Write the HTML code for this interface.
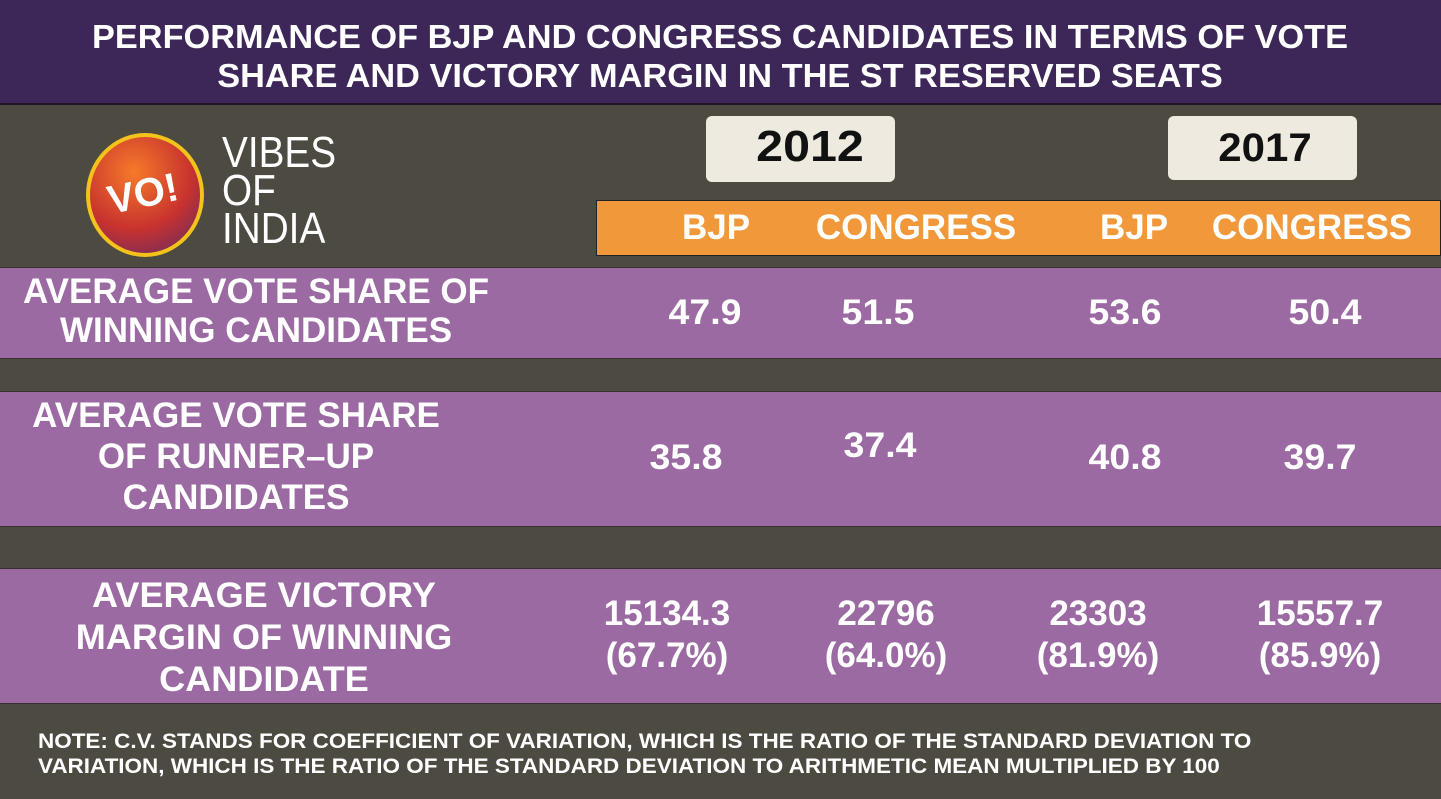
<!DOCTYPE html>
<html><head><style>
body{margin:0;width:1441px;height:799px;overflow:hidden;background:#4d4b41;font-family:"Liberation Sans",sans-serif;font-weight:bold;color:#fff;position:relative}
div{position:absolute}
.t{white-space:nowrap;text-align:center;transform:translateX(-50%) scaleX(1.0);}
.row{left:0;width:1441px;background:#9c6aa2;border-top:1px solid #3a3030;border-bottom:1px solid #3a3030}
.v{font-size:35px;transform:translateX(-50%) scaleX(1.07)}
</style></head><body>
<div style="left:0;top:0;width:1441px;height:103px;background:#3d2758;border-bottom:2px solid #1e1426"></div>
<div class="t" style="left:720px;top:17px;font-size:33px;line-height:39px;transform:translateX(-50%) scaleX(1.04)">PERFORMANCE OF BJP AND CONGRESS CANDIDATES IN TERMS OF VOTE<br>SHARE AND VICTORY MARGIN IN THE ST RESERVED SEATS</div>
<!-- logo -->
<div style="left:86px;top:133px;width:118px;height:124px;border-radius:50%;background:radial-gradient(circle at 40% 30%,#f57a2a,#c8322e 55%,#5a2a6a);border:4px solid #f3c21b;box-sizing:border-box"></div>
<div class="t" style="left:143px;top:172px;font-size:40px;transform:translateX(-50%) rotate(-12deg)">VO!</div>
<div style="left:222px;top:134px;font-size:44px;line-height:38px;font-weight:normal;transform:scaleX(0.88);transform-origin:left">VIBES<br>OF<br>INDIA</div>
<!-- year boxes -->
<div style="left:706px;top:116px;width:189px;height:66px;background:#eeeadf;border-radius:6px"></div>
<div class="t" style="left:810px;top:122px;font-size:44px;color:#111;transform:translateX(-50%) scaleX(1.1)">2012</div>
<div style="left:1168px;top:116px;width:189px;height:64px;background:#eeeadf;border-radius:6px"></div>
<div class="t" style="left:1265px;top:126px;font-size:40px;color:#111;transform:translateX(-50%) scaleX(1.05)">2017</div>
<!-- orange header -->
<div style="left:596px;top:200px;width:845px;height:56px;background:#f0983a;border:1px solid #222;box-sizing:border-box"></div>
<div class="t" style="left:716px;top:208px;font-size:35px">BJP</div>
<div class="t" style="left:916px;top:208px;font-size:35px">CONGRESS</div>
<div class="t" style="left:1134px;top:208px;font-size:35px">BJP</div>
<div class="t" style="left:1312px;top:208px;font-size:35px">CONGRESS</div>
<!-- rows -->
<div class="row" style="top:267px;height:90px"></div>
<div class="t" style="left:256px;top:272px;font-size:35px;line-height:39px">AVERAGE VOTE SHARE OF<br>WINNING CANDIDATES</div>
<div class="t v" style="left:705px;top:293px">47.9</div>
<div class="t v" style="left:878px;top:293px">51.5</div>
<div class="t v" style="left:1125px;top:293px">53.6</div>
<div class="t v" style="left:1325px;top:293px">50.4</div>

<div class="row" style="top:391px;height:134px"></div>
<div class="t" style="left:236px;top:395px;font-size:35px;line-height:41px">AVERAGE VOTE SHARE<br>OF RUNNER–UP<br>CANDIDATES</div>
<div class="t v" style="left:686px;top:438px">35.8</div>
<div class="t v" style="left:880px;top:426px">37.4</div>
<div class="t v" style="left:1125px;top:438px">40.8</div>
<div class="t v" style="left:1320px;top:438px">39.7</div>

<div class="row" style="top:568px;height:134px"></div>
<div class="t" style="left:264px;top:575px;font-size:35px;line-height:42px;transform:translateX(-50%) scaleX(1.03)">AVERAGE VICTORY<br>MARGIN OF WINNING<br>CANDIDATE</div>
<div class="t" style="left:667px;top:593px;font-size:35px;line-height:42px">15134.3<br>(67.7%)</div>
<div class="t" style="left:886px;top:593px;font-size:35px;line-height:42px">22796<br>(64.0%)</div>
<div class="t" style="left:1098px;top:593px;font-size:35px;line-height:42px">23303<br>(81.9%)</div>
<div class="t" style="left:1320px;top:593px;font-size:35px;line-height:42px">15557.7<br>(85.9%)</div>

<div style="left:38px;top:729px;font-size:21px;line-height:25px;white-space:nowrap;transform:scaleX(1.07);transform-origin:left">NOTE: C.V. STANDS FOR COEFFICIENT OF VARIATION, WHICH IS THE RATIO OF THE STANDARD DEVIATION TO<br>VARIATION, WHICH IS THE RATIO OF THE STANDARD DEVIATION TO ARITHMETIC MEAN MULTIPLIED BY 100</div>
</body></html>
